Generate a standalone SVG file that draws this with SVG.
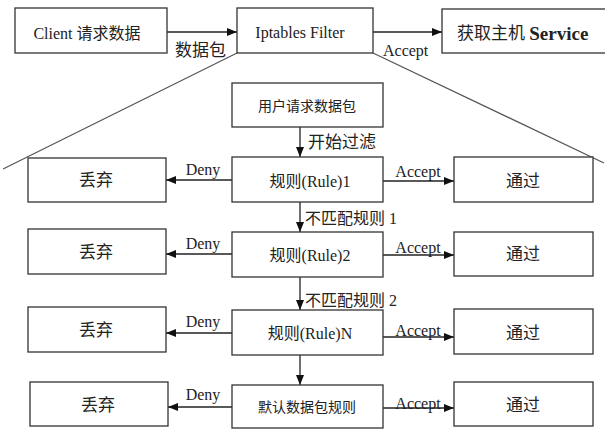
<svg xmlns="http://www.w3.org/2000/svg" width="605" height="436" viewBox="0 0 605 436">
<defs>
<marker id="ah" viewBox="0 0 10 8" refX="10" refY="4" markerWidth="10" markerHeight="8" markerUnits="userSpaceOnUse" orient="auto">
<path d="M0,0 L10,4 L0,8 Z" fill="#111"/>
</marker>
<style>
.box{fill:#fff;stroke:#333;stroke-width:1.3}
.ln{stroke:#222;stroke-width:1.3;fill:none}
.diag{stroke:#555;stroke-width:1.2;fill:none}
text{font-family:"Liberation Serif","Noto Sans CJK SC",serif;fill:#222;dominant-baseline:central}
.c{text-anchor:middle}
.f16{font-size:16px}
.f17{font-size:17px}
.f14{font-size:14px}
</style>
</defs>
<rect width="605" height="436" fill="#fff"/>
<g id="connectors">
<line class="diag" x1="237" y1="53" x2="3" y2="169"/>
<line class="diag" x1="373" y1="53" x2="604" y2="163"/>
<line class="ln" x1="167" y1="32" x2="237" y2="32" marker-end="url(#ah)"/>
<line class="ln" x1="373" y1="32" x2="442" y2="32" marker-end="url(#ah)"/>
<line class="ln" x1="300" y1="127" x2="300" y2="157" marker-end="url(#ah)"/>
<line class="ln" x1="300" y1="202" x2="300" y2="232" marker-end="url(#ah)"/>
<line class="ln" x1="300" y1="277" x2="300" y2="310" marker-end="url(#ah)"/>
<line class="ln" x1="300" y1="355" x2="300" y2="385" marker-end="url(#ah)"/>
<line class="ln" x1="232" y1="180" x2="166" y2="180" marker-end="url(#ah)"/>
<line class="ln" x1="232" y1="254" x2="166" y2="254" marker-end="url(#ah)"/>
<line class="ln" x1="232" y1="333" x2="166" y2="333" marker-end="url(#ah)"/>
<line class="ln" x1="232" y1="407" x2="168" y2="407" marker-end="url(#ah)"/>
<line class="ln" x1="383" y1="181" x2="454" y2="181" marker-end="url(#ah)"/>
<line class="ln" x1="383" y1="255" x2="454" y2="255" marker-end="url(#ah)"/>
<line class="ln" x1="383" y1="337" x2="454" y2="337" marker-end="url(#ah)"/>
<line class="ln" x1="383" y1="408" x2="454" y2="408" marker-end="url(#ah)"/>
<text class="f17" x="175" y="50">数据包</text>
<text class="f16" x="383" y="50">Accept</text>
<text class="f17" x="308" y="142">开始过滤</text>
<text class="f16" x="305" y="218">不匹配规则 1</text>
<text class="f16" x="305" y="300">不匹配规则 2</text>
<text class="f16 c" x="203" y="169">Deny</text>
<text class="f16 c" x="203" y="243">Deny</text>
<text class="f16 c" x="203" y="321">Deny</text>
<text class="f16 c" x="203" y="394">Deny</text>
<text class="f16 c" x="418" y="171">Accept</text>
<text class="f16 c" x="418" y="247">Accept</text>
<text class="f16 c" x="418" y="330">Accept</text>
<text class="f16 c" x="418" y="403">Accept</text>
</g>
<g id="client"><rect class="box" x="15" y="8" width="152" height="45"/><text class="f16 c" x="87" y="33">Client 请求数据</text></g>
<g id="iptables"><rect class="box" x="237" y="8" width="136" height="45"/><text class="f16 c" x="300" y="32">Iptables Filter</text></g>
<g id="service"><rect class="box" x="442" y="9" width="170" height="44"/><text class="f17" x="457" y="33">获取主机 <tspan font-weight="bold" font-size="19">Service</tspan></text></g>
<g id="packet"><rect class="box" x="232" y="83" width="151" height="44"/><text class="f14 c" x="307" y="106">用户请求数据包</text></g>
<g id="rule1"><rect class="box" x="232" y="157" width="151" height="45"/><text class="f16 c" x="310" y="181">规则(Rule)1</text></g>
<g id="rule2"><rect class="box" x="232" y="232" width="151" height="45"/><text class="f16 c" x="310" y="255">规则(Rule)2</text></g>
<g id="ruleN"><rect class="box" x="232" y="310" width="151" height="45"/><text class="f16 c" x="310" y="333">规则(Rule)N</text></g>
<g id="default"><rect class="box" x="232" y="385" width="151" height="43"/><text class="f14 c" x="307" y="407">默认数据包规则</text></g>
<g id="drop1"><rect class="box" x="28" y="158" width="138" height="44"/><text class="f17 c" x="96" y="180">丢弃</text></g>
<g id="drop2"><rect class="box" x="28" y="229" width="138" height="45"/><text class="f17 c" x="96" y="252">丢弃</text></g>
<g id="drop3"><rect class="box" x="28" y="307" width="138" height="45"/><text class="f17 c" x="96" y="330">丢弃</text></g>
<g id="drop4"><rect class="box" x="30" y="382" width="138" height="44"/><text class="f17 c" x="98" y="405">丢弃</text></g>
<g id="pass1"><rect class="box" x="454" y="157" width="139" height="45"/><text class="f17 c" x="523" y="181">通过</text></g>
<g id="pass2"><rect class="box" x="454" y="232" width="139" height="44"/><text class="f17 c" x="523" y="254">通过</text></g>
<g id="pass3"><rect class="box" x="454" y="309" width="139" height="45"/><text class="f17 c" x="523" y="333">通过</text></g>
<g id="pass4"><rect class="box" x="454" y="382" width="139" height="44"/><text class="f17 c" x="523" y="405">通过</text></g>
</svg>
